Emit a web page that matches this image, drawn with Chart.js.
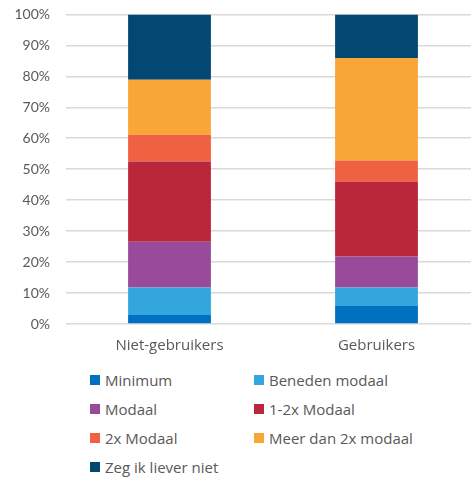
<!DOCTYPE html>
<html><head><meta charset="utf-8">
<script src="https://cdn.jsdelivr.net/npm/chart.js@4/dist/chart.umd.min.js"></script>
<style>
html,body{margin:0;padding:0;background:#fff;overflow:hidden;width:471px;height:478px;position:relative;}
#wrap{position:absolute;left:0;top:-10px;width:480px;height:370px;}
#legend{position:absolute;left:90px;top:370px;display:grid;grid-template-columns:164px 200px;row-gap:9px;font-family:"Open Sans",sans-serif;font-size:15px;color:#595959;}
.item{display:flex;align-items:center;height:20px;white-space:nowrap;}
.box{width:10px;height:10px;margin-right:5px;flex:none;}
</style></head>
<body>
<div id="wrap"><canvas id="c" width="480" height="370"></canvas></div>
<div id="legend"></div>
<script>
const categories = ["Niet-gebruikers", "Gebruikers"];
const seriesNames = ["Minimum", "Beneden modaal", "Modaal", "1-2x Modaal", "2x Modaal", "Meer dan 2x modaal", "Zeg ik liever niet"];
const minimum = [2.9, 5.8];
const benedenModaal = [8.9, 6.0];
const modaal = [14.8, 10.0];
const eenTweeModaal = [25.9, 24.2];
const tweeModaal = [8.6, 6.8];
const meerDan2x = [17.8, 33.1];
const zegNiet = [21.1, 14.1];
const colors = ["#0070C0", "#33A7DD", "#9A4A9A", "#BA263A", "#F06142", "#F9A638", "#034873"];
const values = [minimum, benedenModaal, modaal, eenTweeModaal, tweeModaal, meerDan2x, zegNiet];
const yTicks = [0,10,20,30,40,50,60,70,80,90,100];

const datasets = seriesNames.map((n,i)=>({label:n,data:values[i],backgroundColor:colors[i],borderWidth:0,barPercentage:0.4,categoryPercentage:1}));

new Chart(document.getElementById('c'), {
  type:'bar',
  data:{labels:categories,datasets},
  options:{
    responsive:false,animation:false,
    layout:{padding:{top:0,right:0,bottom:0,left:0}},
    plugins:{legend:{display:false},tooltip:{enabled:false}},
    scales:{
      x:{stacked:true,grid:{display:false},border:{display:false},
         ticks:{color:'#595959',font:{family:'Open Sans',size:15},padding:5}},
      y:{stacked:true,min:0,max:100,
         afterBuildTicks:s=>{s.ticks=yTicks.map(v=>({value:v}));},
         afterFit:s=>{s.width=66;},
         grid:{color:'#d9d9d9',lineWidth:1.5,drawTicks:false},border:{display:false},
         ticks:{color:'#595959',font:{family:'Lato',size:14},padding:16,callback:v=>v+'%'}}
    }
  }
});

const lg=document.getElementById('legend');
seriesNames.forEach((n,i)=>{
  const d=document.createElement('div');d.className='item';
  d.innerHTML='<span class="box" style="background:'+colors[i]+'"></span><span></span>';
  d.lastChild.textContent=n;lg.appendChild(d);
});
</script>
</body></html>
